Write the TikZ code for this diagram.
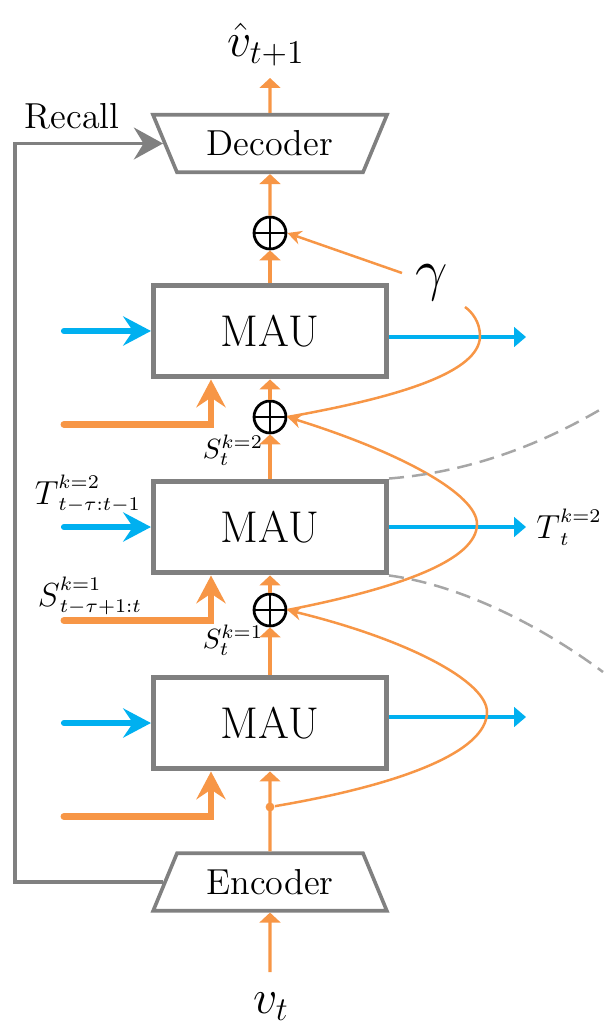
\documentclass[tikz,border=0pt]{standalone}
\usepackage{amsmath,amssymb}
\usepackage{tikz}
\usetikzlibrary{arrows.meta,positioning,shapes.geometric,calc}
\definecolor{flowblue}{RGB}{0,176,240}
\definecolor{floworange}{RGB}{247,150,70}
\definecolor{boxgray}{RGB}{128,128,128}
\definecolor{dashgray}{RGB}{166,166,166}
\newcommand{\bigsym}[1]{\text{\large$#1$}}

\begin{document}
\begin{tikzpicture}[
  x=0.36pt, y=-0.36pt,
  maubox/.style={draw=boxgray, line width=1.8pt, fill=white, minimum width=83.9pt, minimum height=33.1pt, font=\fontsize{16}{19}\selectfont},
  codec/.style={draw=boxgray, line width=1.3pt, fill=white, trapezium, trapezium stretches=true, minimum width=84.6pt, minimum height=20.7pt, font=\fontsize{13}{15}\selectfont},
  addnode/.style={circle, draw, line width=1pt, minimum size=11.5pt, inner sep=0pt, fill=white,
    path picture={\draw[line width=1pt] (path picture bounding box.north) -- (path picture bounding box.south)
      (path picture bounding box.west) -- (path picture bounding box.east);}},
  upflow/.style={floworange, line width=1.1pt, -{Triangle[length=3.6pt, width=7.5pt]}},
  tflow/.style={flowblue, line width=2.2pt, line cap=round, -{Stealth[length=10pt, width=10.5pt, inset=3.5pt]}},
  tout/.style={flowblue, line width=1.1pt, -{Triangle[length=4.3pt, width=7pt]}},
  sflow/.style={floworange, line width=2.5pt, line cap=round, -{Stealth[length=10pt, width=10.5pt, inset=3.5pt]}},
  skipflow/.style={floworange, line width=0.9pt, -{Stealth[length=5pt, width=5pt]}},
  zoomline/.style={dashgray, line width=0.9pt, dash pattern=on 5.4pt off 2.9pt},
  recallline/.style={boxgray, line width=1.1pt, -{Stealth[length=10.5pt, width=11.5pt, inset=3.5pt]}}
]
  \useasboundingbox (0,0) rectangle (603,1031);

  % encoder / decoder
  \node[codec, trapezium left angle=67, trapezium right angle=67] (enc) at (270,882) {Encoder};
  \node[codec, trapezium left angle=113, trapezium right angle=113] (dec) at (270,143.5) {Decoder};

  % MAU stack
  \node[maubox] (mau1) at (270,331) {MAU};
  \node[maubox] (mau2) at (270,527) {MAU};
  \node[maubox] (mau3) at (270,723) {MAU};

  % sums and branch point
  \node[addnode] (add1) at (270,233) {};
  \node[addnode] (add2) at (270,417) {};
  \node[addnode] (add3) at (270,610) {};

  % input / output
  \coordinate (vin) at (270,972);
  \coordinate (vout) at (270,78);
  \node[font=\LARGE] (vtlab) at (271,1007) {$v_t$};
  \node[font=\LARGE] (vhatlab) at (266,45) {$\hat{v}_{t+1}$};

  % main orange path
  \draw[upflow] (vin) -- (enc.south);
  \draw[upflow] (enc.north) -- (mau3.south);
  \draw[upflow] (mau3.north) -- (add3.south);
  \draw[upflow] (add3.north) -- (mau2.south);
  \draw[upflow] (mau2.north) -- (add2.south);
  \draw[upflow] (add2.north) -- (mau1.south);
  \draw[upflow] (mau1.north) -- (add1.south);
  \draw[upflow] (add1.north) -- (dec.south);
  \draw[upflow] (dec.north) -- (vout);
  \node[circle, fill=floworange, inner sep=0pt, minimum size=3.2pt] (br) at (270,807) {};

  % side inputs and outputs of each MAU
  \foreach \i/\dy in {1/6, 2/0, 3/-6} {
    \coordinate (tin\i) at ($(mau\i.west)+(-87,0)$);
    \coordinate (tend\i) at ($(mau\i.east)+(137,\dy)$);
    \coordinate (sin\i) at ($(mau\i.south)+(-206,45)$);
    \draw[tflow] (tin\i) -- (mau\i.west);
    \draw[tout] ($(mau\i.east)+(0,\dy)$) -- (tend\i);
    \draw[sflow] (sin\i) -| ($(mau\i.south)+(-59,0)$);
  }

  % labels
  \node (tlab) at (88,494) {$\bigsym{T}^{k=2}_{t-\tau:t-1}$};
  \node (slab) at (90,596) {$\bigsym{S}^{k=1}_{t-\tau+1:t}$};
  \node[anchor=west, inner sep=1pt] (toutlab) at (533,527) {$\bigsym{T}^{k=2}_t$};
  \node (s2lab) at (233,450) {$S^{k=2}_t$};
  \node (s1lab) at (233,640) {$S^{k=1}_t$};

  % recall connection
  \coordinate (rc) at (15,500);
  \draw[recallline] (enc.west) -| (rc) |- (dec.west);
  \node[font=\fontsize{13}{15}\selectfont] (recalllab) at (72,116) {Recall};

  % gamma weighted skips
  \node[font=\huge] (gam) at (432,283) {$\gamma$};
  \coordinate (gin) at (402,273);
  \coordinate (gout) at (465,307);
  \draw[skipflow] (br) .. controls (400,785) and (487,752) .. (487,712)
    .. controls (487,682) and (410,640) .. (add3.east);
  \draw[skipflow] (add3.east) .. controls (400,588) and (477,560) .. (477,524)
    .. controls (477,494) and (400,452) .. (add2.east);
  \draw[floworange, line width=0.9pt] (add2.east) .. controls (400,397) and (480,372) .. (480,336)
    .. controls (480,322) and (472,312) .. (gout);
  \draw[skipflow] (gin) -- (add1.east);

  % zoom guides
  \coordinate (zt) at (603,408);
  \coordinate (zb) at (603,672);
  \draw[zoomline] (mau2.north east) .. controls (470,472) and (540,445) .. (zt);
  \draw[zoomline] (mau2.south east) .. controls (460,585) and (540,625) .. (zb);

\end{tikzpicture}
\end{document}
